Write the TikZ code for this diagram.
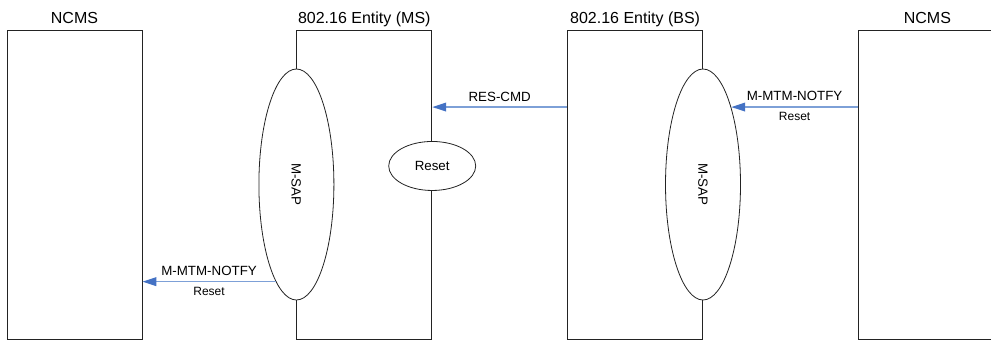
\documentclass[tikz,border=0pt]{standalone}
\usepackage{fontspec}
\setmainfont{Liberation Sans}
\usetikzlibrary{shapes.geometric, arrows.meta, positioning}
\definecolor{msgblue}{RGB}{125,160,215}
\definecolor{tipblue}{RGB}{68,114,196}
\definecolor{edgegray}{RGB}{35,35,35}
\tikzstyle{entity} = [rectangle, draw=edgegray, line width=0.6pt,
    minimum width=101.25pt, minimum height=231.75pt, inner sep=0pt]
\tikzstyle{title} = [inner sep=0pt, text depth=0pt, font=\fontsize{12}{14}\selectfont]
\tikzstyle{sap} = [ellipse, draw=edgegray, fill=white, line width=0.6pt,
    minimum width=56.25pt, minimum height=173.25pt, inner sep=0pt]
\tikzstyle{event} = [ellipse, draw=edgegray, fill=white, line width=0.6pt,
    minimum width=65.25pt, minimum height=36.75pt, inner sep=0pt,
    font=\fontsize{10}{12}\selectfont]
\tikzstyle{msgline} = [draw=msgblue, line width=1.2pt,
    -{Triangle[length=10.5pt, width=6.5pt, color=tipblue]}]
\tikzstyle{msg} = [inner sep=0pt, text depth=0pt, font=\fontsize{10}{12}\selectfont]
\tikzstyle{note} = [inner sep=0pt, font=\fontsize{9}{11}\selectfont]

\begin{document}
\begin{tikzpicture}[x=0.75pt, y=-0.75pt]
        \useasboundingbox (0,0) rectangle (991,340);
        % Place nodes
        \node [entity] (ncmsl) at (74.5,184.5) {};
        \node [entity, right=115.5pt of ncmsl] (ms) {};
        \node [entity, right=101.25pt of ms] (bs) {};
        \node [entity, minimum width=103.5pt, right=116.25pt of bs] (ncmsr) {};
        % Titles
        \node [title, above=4.5pt of ncmsl] (ncmsl_title) {NCMS};
        \node [title, above=4.5pt of ms] (ms_title) {802.16 Entity (MS)};
        \node [title, above=4.5pt of bs] (bs_title) {802.16 Entity (BS)};
        \node [title, above=4.5pt of ncmsr] (ncmsr_title) {NCMS};
        % Service access points
        \node [sap] (ms_sap) at (ms.west) {};
        \node [msg, rotate=-90] (ms_sap_text) at (ms_sap) {M-SAP};
        \node [sap] (bs_sap) at (bs.east) {};
        \node [msg, rotate=-90] (bs_sap_text) at (bs_sap) {M-SAP};
        \node [event] (ms_reset) at ([yshift=13.9pt]ms.east) {Reset};
        % Draw edges
        \path [msgline] (bs.west |- bs_sap.70) -- node [msg, above=3.5pt] (rescmd) {RES-CMD}
            (ms.east |- bs_sap.70);
        \path [msgline] (ncmsr.west |- bs_sap.70) -- node [msg, above=4pt] (bs_notify) {M-MTM-NOTFY}
            node [note, below=3pt] (bs_notify_reset) {Reset} (bs_sap.70);
        \path [msgline] (ms_sap.258) -- node [msg, above=4pt] (ms_notify) {M-MTM-NOTFY}
            node [note, below=3.5pt] (ms_notify_reset) {Reset} (ms_sap.258 -| ncmsl.east);
    \end{tikzpicture}
\end{document}
